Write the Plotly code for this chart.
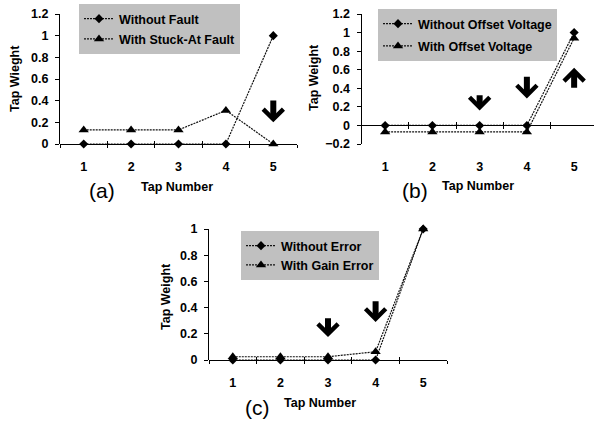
import plotly.graph_objects as go

# ---------------- data ----------------
taps = [1, 2, 3, 4, 5]
tap_labels = ["1", "2", "3", "4", "5"]

a_without_fault = [0, 0, 0, 0, 1.0]
a_stuck_at_fault = [0.13, 0.13, 0.13, 0.31, 0.0]

b_without_offset = [0, 0, 0, 0, 1.0]
b_with_offset = [-0.07, -0.07, -0.07, -0.07, 0.94]

c_without_error = [0, 0, 0, 0, 1.0]
c_with_gain_error = [0.025, 0.025, 0.025, 0.063, 1.0]

# arrows: (tap, tail value, tip value)
arrows_a = [(5, 0.415, 0.20)]
arrows_b = [(3, 0.34, 0.16), (4, 0.54, 0.29), (5, 0.39, 0.62)]
arrows_c = [(3, 0.33, 0.175), (4, 0.46, 0.29)]

W, H = 594, 422
FONT = "Liberation Sans, Arial, sans-serif"

def px_x(p):
    return p / W

def px_y(p):
    return 1 - p / H

panels = [
    dict(n=1, xdom=[px_x(60), px_x(297)], ydom=[px_y(144), px_y(14)], xr=[0.5, 5.5],
         yr=[0, 1.2], dt=0.2, ytitle="Tap Wieght",
         series=[("Without Fault", a_without_fault, "diamond"),
                 ("With Stuck-At Fault", a_stuck_at_fault, "triangle-up")],
         arrows=arrows_a, letter="(a)",
         letter_xy=(102, 191), xt_xy=(177, 187), yt_xy=(15, 79),
         legend=dict(x=px_x(79), y=px_y(4)), gap=1, groups=True),
    dict(n=2, xdom=[px_x(361.5), 1.0], ydom=[px_y(144), px_y(14)],
         xr=[0.5, 0.5 + (594 - 361.5) / 47.25], yr=[-0.2, 1.2], dt=0.2, ytitle="Tap Weight",
         series=[("Without Offset Voltage", b_without_offset, "diamond"),
                 ("With Offset Voltage", b_with_offset, "triangle-up")],
         arrows=arrows_b, letter="(b)",
         letter_xy=(415, 190), xt_xy=(478, 186), yt_xy=(314, 78),
         legend=dict(x=px_x(378), y=px_y(9)), gap=3, groups=True),
    dict(n=3, xdom=[px_x(209), px_x(447)], ydom=[px_y(360), px_y(229)], xr=[0.5, 5.5],
         yr=[0, 1.0], dt=0.2, ytitle="Tap Weight",
         series=[("Without Error", c_without_error, "diamond"),
                 ("With Gain Error", c_with_gain_error, "triangle-up")],
         arrows=arrows_c, letter="(c)",
         letter_xy=(257, 407), xt_xy=(320, 403), yt_xy=(166, 297),
         legend=dict(x=px_x(241), y=px_y(231)), gap=0, groups=False),
]

fig = go.Figure()
layout = dict(
    width=W, height=H, margin=dict(l=0, r=0, t=0, b=0, autoexpand=False),
    paper_bgcolor="white", plot_bgcolor="white",
    font=dict(family=FONT, size=12, color="black"),
    showlegend=True, annotations=[],
)

bounds = [t - 0.5 for t in taps] + [taps[-1] + 0.5]

for p in panels:
    n = p["n"]
    lname = "legend" if n == 1 else f"legend{n}"
    xa, ya = (f"x{n}" if n > 1 else "x"), (f"y{n}" if n > 1 else "y")
    for i, (name, vals, sym) in enumerate(p["series"]):
        fig.add_trace(go.Scatter(
            x=taps, y=vals, name=name, mode="lines+markers",
            xaxis=xa, yaxis=ya, legend=lname,
            legendgroup=(f"{n}-{i}" if p["groups"] else None),
            line=dict(color="#111111", width=1.2, dash="2px,1px"),
            marker=dict(symbol=sym, size=7 if sym == "diamond" else 9, color="black"),
            cliponaxis=False,
        ))
    # label x axis
    layout[f"xaxis{n}" if n > 1 else "xaxis"] = dict(
        domain=p["xdom"], range=p["xr"], anchor=ya, tickmode="array", tickvals=taps,
        ticktext=tap_labels, ticks="", showline=False, showgrid=False, zeroline=False,
        tickfont=dict(size=12.5, weight="bold"), ticklabelstandoff=13,
    )
    # tick axes at y=0 (crossing ticks)
    pos = p["ydom"][0] + (0 - p["yr"][0]) / (p["yr"][1] - p["yr"][0]) * (p["ydom"][1] - p["ydom"][0])
    for k, tk in enumerate(["outside", "inside"]):
        idx = 3 + n + 3 * k
        layout[f"xaxis{idx}"] = dict(
            overlaying=xa, anchor="free", position=pos, range=p["xr"],
            tickmode="array", tickvals=bounds, ticks=tk, ticklen=3, tickcolor="black",
            showticklabels=False, showline=True, linecolor="black", linewidth=1,
            showgrid=False, zeroline=False,
        )
        fig.add_trace(go.Scatter(x=[None], y=[None], xaxis=f"x{idx}", yaxis=ya,
                                 showlegend=False, hoverinfo="skip", mode="markers"))
    layout[f"yaxis{n}" if n > 1 else "yaxis"] = dict(
        domain=p["ydom"], range=p["yr"], anchor=xa, dtick=p["dt"], tick0=0,
        ticks="outside", ticklen=4, tickcolor="black", showline=True, linecolor="black",
        linewidth=1, showgrid=False, zeroline=False,
        tickfont=dict(size=12.5, weight="bold"), ticklabelstandoff=4,
    )
    layout[lname] = dict(
        x=p["legend"]["x"], y=p["legend"]["y"], xanchor="left", yanchor="top",
        bgcolor="#c0c0c0", borderwidth=0, font=dict(size=12.5, weight="bold"),
        tracegroupgap=p["gap"], itemwidth=30,
    )
    for (t, tail, tip) in p["arrows"]:
        layout["annotations"].append(dict(
            xref=xa, yref=ya, axref=xa, ayref=ya, x=t, y=tip, ax=t, ay=tail,
            text="", showarrow=True, arrowhead=4, arrowwidth=6, arrowsize=0.65,
            arrowcolor="black", standoff=0, startstandoff=0,
        ))
    lx, ly = p["letter_xy"]
    layout["annotations"].append(dict(
        xref="paper", yref="paper", x=px_x(lx), y=px_y(ly), text=p["letter"],
        showarrow=False, font=dict(size=21), xanchor="center", yanchor="middle"))
    tx, ty = p["xt_xy"]
    layout["annotations"].append(dict(
        xref="paper", yref="paper", x=px_x(tx), y=px_y(ty), text="Tap Number",
        showarrow=False, font=dict(size=12.5, weight="bold"), xanchor="center", yanchor="middle"))
    yx, yy = p["yt_xy"]
    layout["annotations"].append(dict(
        xref="paper", yref="paper", x=px_x(yx), y=px_y(yy), text=p["ytitle"],
        showarrow=False, textangle=-90, font=dict(size=12.5, weight="bold"),
        xanchor="center", yanchor="middle"))

fig.update_layout(**layout)
fig.write_html("out.html", config={"displayModeBar": False},
               post_script="document.body.style.margin='0px';")
